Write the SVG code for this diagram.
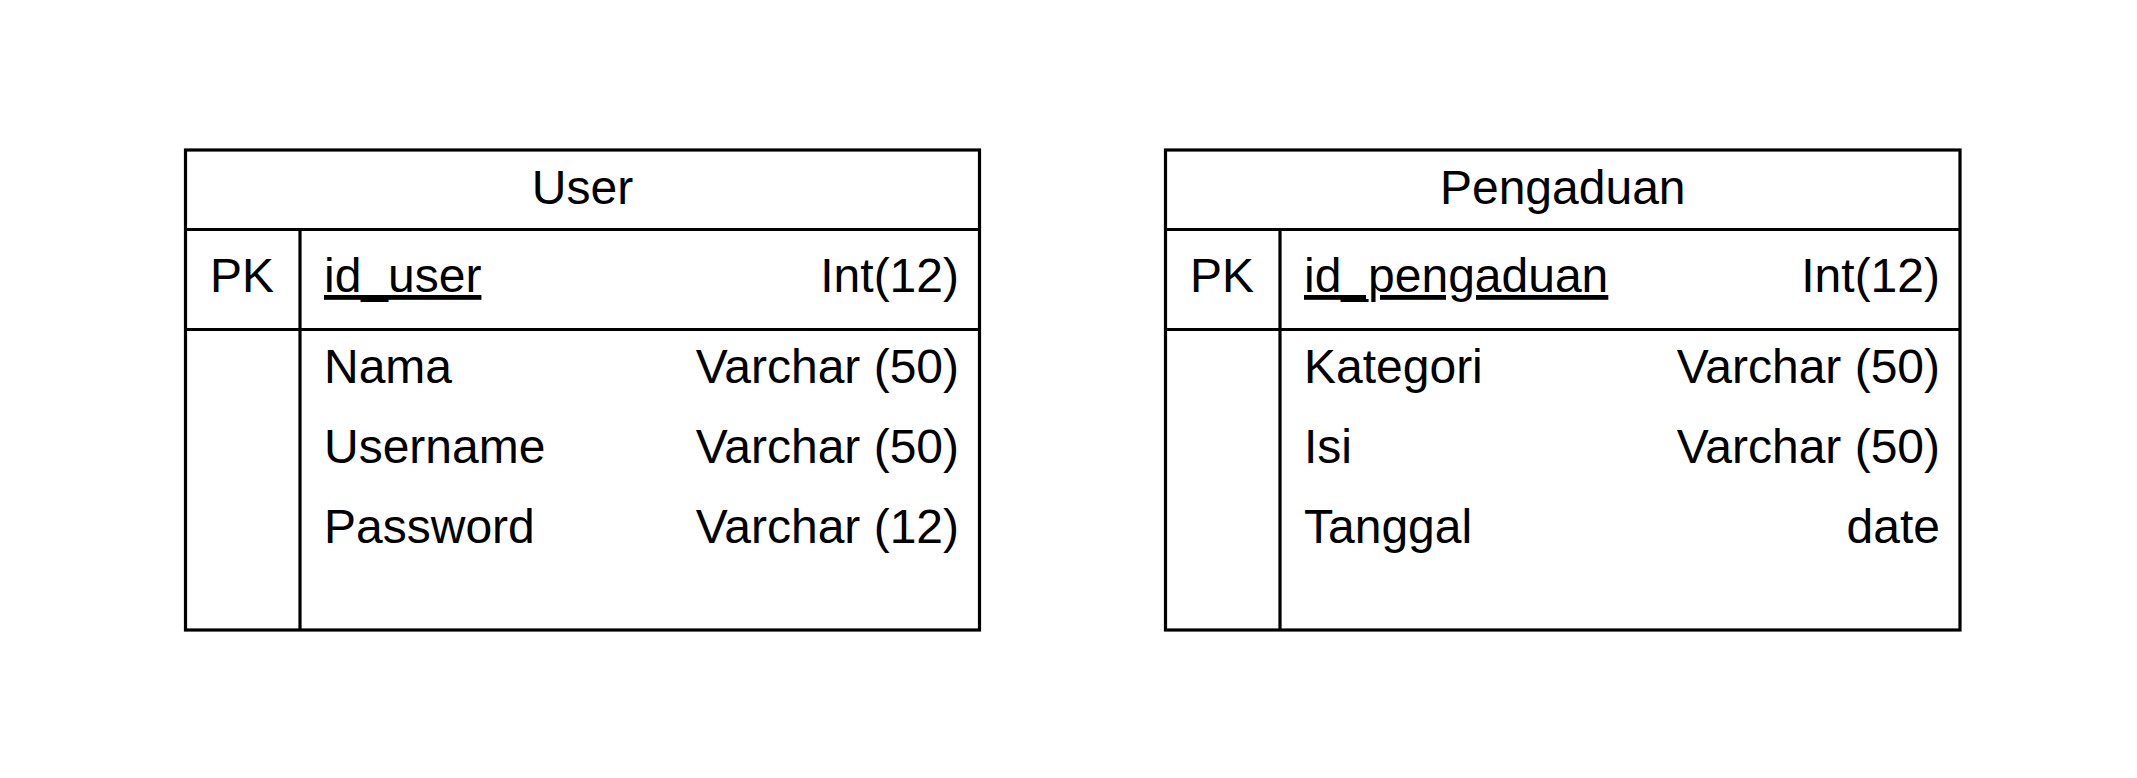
<svg xmlns="http://www.w3.org/2000/svg" width="2137" height="778" viewBox="0 0 2137 778">
<style>
.box{fill:#fff;stroke:#000;stroke-width:3.2}
.ln{stroke:#000;stroke-width:3.2;fill:none}
text{font-family:"Liberation Sans",Arial,sans-serif;font-size:48px;fill:#000}
.c{text-anchor:middle}
.r{text-anchor:end}
.u{text-decoration:underline}
</style>
<rect width="2137" height="778" fill="#fff"/>
<g id="user">
<rect class="box" x="185.5" y="150" width="794" height="480"/>
<line class="ln" x1="185.5" y1="229.5" x2="979.5" y2="229.5"/>
<line class="ln" x1="185.5" y1="329.5" x2="979.5" y2="329.5"/>
<line class="ln" x1="300" y1="229.5" x2="300" y2="630"/>
<text class="c" x="582.5" y="204">User</text>
<text x="210" y="292">PK</text>
<text class="u" x="324" y="292">id_user</text>
<text class="r" x="959" y="292">Int(12)</text>
<text x="324" y="383">Nama</text>
<text class="r" x="959" y="383">Varchar (50)</text>
<text x="324" y="463">Username</text>
<text class="r" x="959" y="463">Varchar (50)</text>
<text x="324" y="543">Password</text>
<text class="r" x="959" y="543">Varchar (12)</text>
</g>
<g id="pengaduan">
<rect class="box" x="1165.5" y="150" width="794.5" height="480"/>
<line class="ln" x1="1165.5" y1="229.5" x2="1960" y2="229.5"/>
<line class="ln" x1="1165.5" y1="329.5" x2="1960" y2="329.5"/>
<line class="ln" x1="1280" y1="229.5" x2="1280" y2="630"/>
<text class="c" x="1562.75" y="204">Pengaduan</text>
<text x="1190" y="292">PK</text>
<text class="u" x="1304" y="292">id_pengaduan</text>
<text class="r" x="1940" y="292">Int(12)</text>
<text x="1304" y="383">Kategori</text>
<text class="r" x="1940" y="383">Varchar (50)</text>
<text x="1304" y="463">Isi</text>
<text class="r" x="1940" y="463">Varchar (50)</text>
<text x="1304" y="543">Tanggal</text>
<text class="r" x="1940" y="543">date</text>
</g>
<g id="connectors"></g>
</svg>
